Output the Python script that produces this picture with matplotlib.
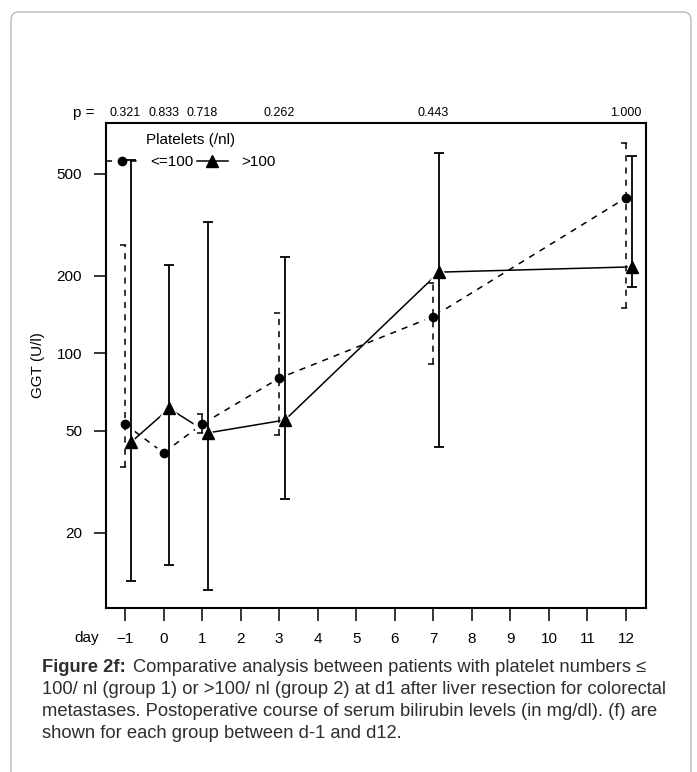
import numpy as np
import matplotlib
matplotlib.use("Agg")
import matplotlib.pyplot as plt
from matplotlib.patches import FancyBboxPatch
from matplotlib.lines import Line2D

plt.rcParams['font.family'] = ['Liberation Sans', 'DejaVu Sans']

# ---- data ----
days = np.array([-1, 0, 1, 3, 7, 12])
day_ticks = list(range(-1, 13))
tick_labels = ['\u22121'] + [str(d) for d in range(0, 13)]

g1_mean = np.array([53, 41, 53, 80, 139, 403])
g1_low = np.array([36, np.nan, 49, 48, 91, 150])
g1_high = np.array([264, np.nan, 58, 143, 188, 660])

g2_mean = np.array([45, 61, 49, 55, 207, 217])
g2_low = np.array([13, 15, 12, 27, 43, 182])
g2_high = np.array([567, 221, 324, 237, 604, 587])

p_values = ["0.321", "0.833", "0.718", "0.262", "0.443", "1.000"]
yticks = [20, 50, 100, 200, 500]

g2_offset = 0.15
cap_w = 0.13

W, H = 697, 772
fig = plt.figure(figsize=(W / 100, H / 100), dpi=100)
L, R, T, B = 105.5, 646, 123, 608
ax = fig.add_axes([L / W, 1 - B / H, (R - L) / W, (B - T) / H])

ax.set_yscale('log')
ax.set_ylim(10.2, 788)
ax.set_xlim(-1.506, 12.52)

x1 = days
x2 = days + g2_offset

# connecting lines
ax.plot(x1, g1_mean, color='black', lw=1.1, ls=(0, (4, 4)), zorder=2)
ax.plot(x2, g2_mean, color='black', lw=1.1, ls='-', zorder=2)
# halos to create gaps (type "b")
ax.plot(x1, g1_mean, 'o', ms=13, color='white', mec='none', zorder=3)
ax.plot(x2, g2_mean, '^', ms=15, color='white', mec='none', zorder=3)

# error bars
m = ~np.isnan(g1_low)
ax.vlines(x1[m], g1_low[m], g1_high[m], colors='black', lw=1.1,
          linestyles=[(0, (4, 4))], zorder=4)
ax.hlines(g1_low[m], x1[m] - cap_w, x1[m] + cap_w, colors='black', lw=1.1,
          linestyles=[(0, (4, 4))], zorder=4)
ax.hlines(g1_high[m], x1[m] - cap_w, x1[m] + cap_w, colors='black', lw=1.1,
          linestyles=[(0, (4, 4))], zorder=4)

ax.vlines(x2, g2_low, g2_high, colors='black', lw=1.3, zorder=4)
ax.hlines(g2_low, x2 - cap_w, x2 + cap_w, colors='black', lw=1.3, zorder=4)
ax.hlines(g2_high, x2 - cap_w, x2 + cap_w, colors='black', lw=1.3, zorder=4)

# markers
ax.plot(x1, g1_mean, 'o', ms=6, color='black', zorder=5)
ax.plot(x2, g2_mean, '^', ms=8, color='black', zorder=5)

ax.set_yticks(yticks)
ax.set_yticklabels([str(v) for v in yticks])
ax.yaxis.set_minor_locator(matplotlib.ticker.NullLocator())
ax.set_xticks(day_ticks)
ax.set_xticklabels(tick_labels)
ax.tick_params(axis='both', length=9, width=1.1, labelsize=11, direction='out')
ax.tick_params(axis='y', pad=8)
ax.tick_params(axis='x', pad=8)
for s in ax.spines.values():
    s.set_linewidth(1.5)

ax.set_ylabel('GGT (U/l)', fontsize=11)
ax.yaxis.set_label_coords(-0.112, 0.5)

# day label
ax.text(-2.0, -0.062, 'day', transform=ax.get_xaxis_transform(),
        ha='center', va='center', fontsize=11)

# p values
xt = ax.get_xaxis_transform()
for d, p in zip(days, p_values):
    ax.text(d, 1.02, p, transform=xt, ha='center', va='center', fontsize=9)
ax.text(-2.06, 1.02, 'p =', transform=xt, ha='center', va='center', fontsize=11)

# legend
h1 = Line2D([], [], color='black', lw=1.1, ls=(0, (4, 4)), marker='o', ms=6)
h2 = Line2D([], [], color='black', lw=1.1, ls='-', marker='^', ms=8)
leg = ax.legend([h1, h2], ['<=100', '>100'], ncol=2, title='Platelets (/nl)',
                frameon=False, loc='upper left', bbox_to_anchor=(-0.004, 0.985),
                borderaxespad=0.0, borderpad=0.2, handlelength=2.0,
                handletextpad=0.9, columnspacing=0.2, fontsize=11,
                title_fontsize=11)

# outer border
fig.add_artist(FancyBboxPatch((0.11, -0.5), 6.80, 8.10,
                              boxstyle='round,pad=0,rounding_size=0.08',
                              transform=fig.dpi_scale_trans, fill=False,
                              ec='#b8b8b8', lw=1.0))

# caption
cap_col = '#2e2e2e'
cx = 42 / W
fs = 13.2
t_bold = fig.text(cx, 1 - 668 / H, 'Figure 2f:', fontsize=fs, fontweight='bold',
                  color=cap_col, ha='left', va='center')
fig.canvas.draw()
bb = t_bold.get_window_extent(renderer=fig.canvas.get_renderer())
fig.text(bb.x1 / W + 7 / W, 1 - 668 / H,
         'Comparative analysis between patients with platelet numbers \u2264',
         fontsize=fs, color=cap_col, ha='left', va='center')
lines = ['100/ nl (group 1) or >100/ nl (group 2) at d1 after liver resection for colorectal',
         'metastases. Postoperative course of serum bilirubin levels (in mg/dl). (f) are',
         'shown for each group between d-1 and d12.']
for i, ln in enumerate(lines):
    fig.text(cx, 1 - (690 + 22 * i) / H, ln, fontsize=fs, color=cap_col,
             ha='left', va='center')

fig.savefig('out.png', dpi=100)
